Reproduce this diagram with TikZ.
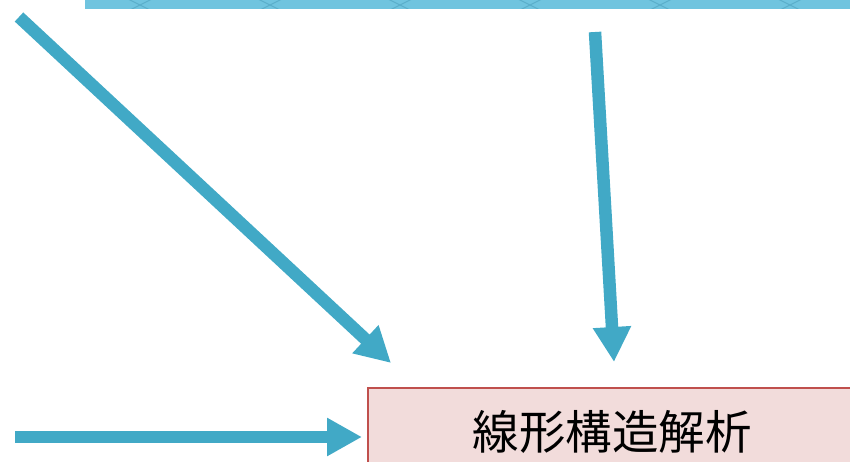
\documentclass[tikz,border=0pt]{standalone}
\usepackage{fontspec}
\newfontfamily\cjk{Noto Sans CJK JP}
\usetikzlibrary{arrows.meta}
\definecolor{arrowblue}{HTML}{41A9C6}
\definecolor{bandblue}{HTML}{70C4DF}
\definecolor{bandline}{HTML}{5AAFCB}
\definecolor{boxfill}{HTML}{F2DCDB}
\definecolor{boxline}{HTML}{C0504D}
\tikzset{
  bigarrow/.style={draw=arrowblue, line width=12.5pt, -{Triangle[length=35pt,width=36pt]}},
  procbox/.style={draw=boxline, line width=1.5pt, fill=boxfill},
}
\begin{document}
\begin{tikzpicture}[x=1pt,y=-1pt]
\useasboundingbox (0,0) rectangle (850,462);
\begin{scope}
\clip (0,0) rectangle (850,462);
% top band
\fill[bandblue] (85,-5) rectangle (860,9);
\begin{scope}
\clip (85,-5) rectangle (860,9);
\foreach \x in {110,240,370,500,630,760} {
  \draw[bandline, line width=1pt] (\x,-10) -- (\x+60,20);
  \draw[bandline, line width=1pt] (\x+60,-10) -- (\x,20);
}
\end{scope}
% box
\node[procbox, minimum width=500pt, minimum height=100pt, anchor=north west, inner sep=0pt] (box) at (367,387) {};
\node[anchor=center, inner sep=0pt] (label) at (612,432) {\cjk\fontsize{46.5pt}{52pt}\selectfont 線形構造解析};
% arrows
\coordinate (a1s) at (19,17);
\coordinate (a1e) at (391,363);
\coordinate (a2s) at (595,32);
\coordinate (a2e) at (614,362);
\coordinate (a3s) at (15,437);
\coordinate (a3e) at (362,437);
\draw[bigarrow] (a1s) -- (a1e);
\draw[bigarrow] (a2s) -- (a2e);
\draw[bigarrow] (a3s) -- (a3e);
\end{scope}
\end{tikzpicture}
\end{document}
